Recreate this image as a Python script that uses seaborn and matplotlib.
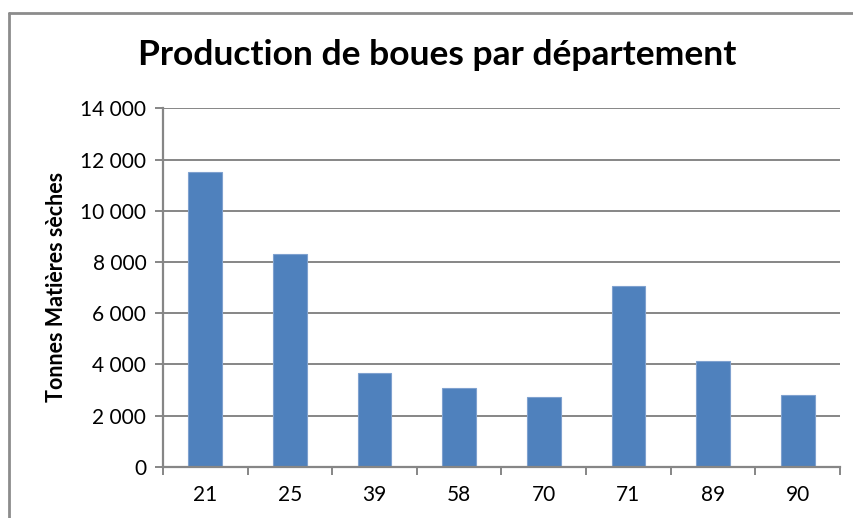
import matplotlib
matplotlib.use("Agg")
import matplotlib.pyplot as plt
from matplotlib.ticker import FuncFormatter, FixedLocator
from matplotlib.lines import Line2D
import seaborn as sns
import pandas as pd
import numpy as np

departements = ["21", "25", "39", "58", "70", "71", "89", "90"]
tonnes_ms = [11500, 8300, 3670, 3070, 2710, 7070, 4130, 2790]
y_ticks = [0, 2000, 4000, 6000, 8000, 10000, 12000, 14000]

sns.set_theme(style="white")
plt.rcParams["font.family"] = ["Lato", "DejaVu Sans"]

df = pd.DataFrame({"dep": departements, "t": tonnes_ms})

fig = plt.figure(figsize=(8.54, 5.18), dpi=100)
ax = fig.add_axes([163 / 854, 1 - 466.7 / 518, (840 - 163) / 854, (466.7 - 108.3) / 518])

grid_c = "#868686"
ax.set_axisbelow(True)
ax.yaxis.grid(True, color=grid_c, linewidth=1.4)

sns.barplot(data=df, x="dep", y="t", ax=ax, color="#4F81BD", saturation=1,
            width=0.4, edgecolor="#7FA1CF", linewidth=0.8)

ax.set_ylim(0, 14000)
ax.set_xlim(-0.5, len(departements) - 0.5)
ax.set_yticks(y_ticks)
ax.yaxis.set_major_formatter(FuncFormatter(lambda v, p: f"{int(v):,}".replace(",", " ")))

# category boundary ticks on the x axis
ax.xaxis.set_minor_locator(FixedLocator(np.arange(-0.5, len(departements), 1.0)))
ax.tick_params(axis="x", which="major", length=0, pad=13, labelsize=15, labelcolor="black")
ax.tick_params(axis="x", which="minor", length=6, width=1.4, color=grid_c, direction="out", bottom=True)
ax.tick_params(axis="y", which="major", length=6, width=1.4, color=grid_c, direction="out",
               pad=6, labelsize=15, labelcolor="black", left=True)

for side in ["top", "right"]:
    ax.spines[side].set_visible(False)
for side in ["left", "bottom"]:
    ax.spines[side].set_color(grid_c)
    ax.spines[side].set_linewidth(1.6)

ax.set_xlabel("")
ax.set_ylabel("")
fig.text(57 / 854, 1 - 287 / 518, "Tonnes Matières sèches", rotation=90,
         ha="center", va="center", fontsize=15.5, fontweight="bold", color="black")
fig.text(437 / 854, 1 - 55 / 518, "Production de boues par département",
         ha="center", va="center", fontsize=25.5, fontweight="bold", color="black")

# chart frame
bx, by = 9 / 854, 1 - 13 / 518
fig.add_artist(Line2D([bx, 1.0], [by, by], transform=fig.transFigure, color="#8C8C8C", linewidth=2))
fig.add_artist(Line2D([bx, bx], [by, 0.0], transform=fig.transFigure, color="#8C8C8C", linewidth=2))

fig.savefig("out.png", dpi=100)
